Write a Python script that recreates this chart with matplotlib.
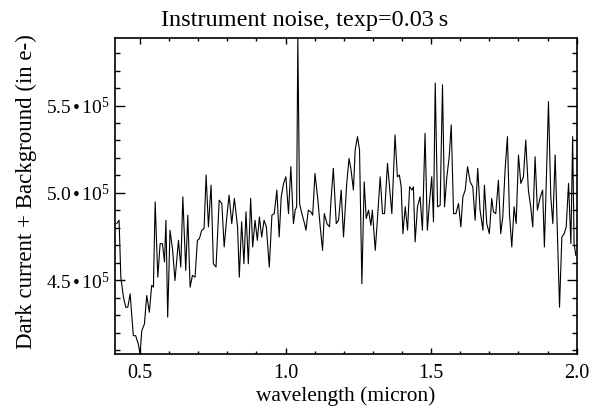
import matplotlib
matplotlib.use('Agg')
import matplotlib.pyplot as plt
import numpy as np
from matplotlib.ticker import MultipleLocator, FixedLocator, FuncFormatter

# wavelength (micron) and dark current + background (units of 1e5 e-)
wavelength = [0.420, 0.428, 0.434, 0.443, 0.451, 0.458, 0.466, 0.477, 0.485, 0.494,
              0.500, 0.506, 0.515, 0.523, 0.532, 0.540, 0.546, 0.552, 0.561, 0.569,
              0.577, 0.584, 0.589, 0.595, 0.603, 0.612, 0.620, 0.632, 0.640, 0.647,
              0.657, 0.664, 0.672, 0.680, 0.689, 0.697, 0.704, 0.712, 0.720, 0.727,
              0.735, 0.744, 0.752, 0.761, 0.772, 0.781, 0.789, 0.798, 0.806, 0.815,
              0.824, 0.835, 0.841, 0.849, 0.857, 0.864, 0.872, 0.880, 0.887, 0.895,
              0.903, 0.910, 0.918, 0.926, 0.934, 0.944, 0.953, 0.961, 0.970, 0.978,
              0.985, 0.993, 1.001, 1.010, 1.018, 1.027, 1.033, 1.038, 1.042, 1.048,
              1.056, 1.065, 1.070, 1.078, 1.087, 1.093, 1.101, 1.111, 1.119, 1.127,
              1.133, 1.142, 1.151, 1.156, 1.164, 1.174, 1.182, 1.191, 1.199, 1.210,
              1.218, 1.225, 1.233, 1.239, 1.247, 1.254, 1.262, 1.270, 1.277, 1.285,
              1.293, 1.298, 1.308, 1.316, 1.325, 1.333, 1.340, 1.350, 1.357, 1.365,
              1.376, 1.384, 1.391, 1.397, 1.403, 1.411, 1.419, 1.426, 1.434, 1.439,
              1.445, 1.453, 1.462, 1.470, 1.479, 1.487, 1.494, 1.502, 1.508, 1.514,
              1.522, 1.531, 1.539, 1.546, 1.554, 1.562, 1.569, 1.577, 1.585, 1.594,
              1.602, 1.609, 1.617, 1.625, 1.634, 1.643, 1.651, 1.660, 1.668, 1.678,
              1.683, 1.691, 1.700, 1.708, 1.714, 1.722, 1.731, 1.739, 1.746, 1.754,
              1.762, 1.769, 1.777, 1.785, 1.792, 1.800, 1.808, 1.817, 1.825, 1.834,
              1.842, 1.849, 1.857, 1.865, 1.875, 1.883, 1.889, 1.897, 1.903, 1.911,
              1.918, 1.926, 1.934, 1.941, 1.949, 1.957, 1.964, 1.972, 1.980, 1.986,
              1.991, 1.997]
noise = [4.824, 4.843, 4.517, 4.403, 4.345, 4.345, 4.422, 4.182, 4.182, 4.134,
         4.077, 4.211, 4.249, 4.412, 4.316, 4.470, 4.460, 4.948, 4.517, 4.709,
         4.709, 4.604, 4.843, 4.288, 4.786, 4.671, 4.498, 4.728, 4.575, 4.977,
         4.556, 4.872, 4.460, 4.527, 4.517, 4.728, 4.738, 4.786, 4.795, 5.102,
         4.805, 5.044, 4.594, 4.575, 4.958, 4.939, 4.690, 4.862, 4.987, 4.824,
         4.968, 4.805, 4.517, 4.834, 4.594, 4.891, 4.594, 4.968, 4.690, 4.843,
         4.728, 4.862, 4.747, 4.843, 4.805, 4.575, 4.872, 4.881, 5.016, 4.747,
         4.977, 5.054, 5.092, 4.881, 5.150, 4.824, 4.901, 4.920, 5.887, 4.939,
         4.881, 4.824, 4.786, 4.901, 4.891, 4.872, 5.111, 4.958, 4.805, 4.671,
         4.881, 4.824, 4.805, 4.958, 5.140, 4.824, 4.843, 5.016, 4.747, 5.054,
         5.197, 5.130, 5.016, 5.245, 5.322, 5.245, 4.479, 5.063, 4.853, 4.901,
         4.814, 4.901, 4.671, 4.862, 5.092, 4.881, 4.881, 5.169, 5.035, 4.881,
         5.332, 5.092, 5.102, 5.035, 4.766, 4.920, 4.786, 5.035, 5.016, 5.035,
         4.719, 4.920, 4.977, 4.786, 5.341, 4.786, 4.939, 5.092, 4.834, 5.629,
         4.920, 4.929, 5.619, 4.920, 5.092, 5.207, 5.389, 4.881, 4.881, 4.939,
         4.805, 4.977, 5.016, 5.150, 5.063, 5.035, 4.843, 5.140, 4.901, 4.786,
         5.044, 4.824, 4.766, 4.968, 4.891, 4.881, 5.073, 4.766, 4.862, 5.130,
         5.322, 4.881, 4.690, 4.920, 4.824, 5.217, 5.054, 5.092, 5.303, 5.016,
         4.920, 4.805, 5.207, 4.901, 4.977, 5.016, 4.690, 5.150, 5.523, 4.977,
         4.824, 5.217, 4.747, 4.345, 4.747, 4.766, 4.805, 5.054, 4.709, 5.322,
         4.709, 4.642]

x_major = [0.5, 1.0, 1.5, 2.0]
y_major = [4.5e5, 5.0e5, 5.5e5]

plt.rcParams['font.family'] = ['Liberation Serif', 'DejaVu Serif']
plt.rcParams['mathtext.fontset'] = 'custom'
plt.rcParams['mathtext.rm'] = 'Liberation Serif'
plt.rcParams['mathtext.it'] = 'Liberation Serif:italic'


# IDL style labels, e.g. 5.5 • 10^5
def sci_label(val, pos):
    return '{:.1f}'.format(val / 1e5) + r'$\,$' + '\u2022' + r'$\,$10$^{5}$'


fig = plt.figure(figsize=(6.03, 4.15), dpi=100)
ax = fig.add_axes([115 / 603, 1 - 354 / 415, (576.7 - 115) / 603, (354 - 38) / 415])

y = np.array(noise) * 1e5
ax.plot(wavelength, y, color='black', lw=0.8)

ax.set_xlim(0.414, 2.0)
ax.set_ylim(y.min(), y.max())

ax.xaxis.set_major_locator(FixedLocator(x_major))
ax.xaxis.set_minor_locator(MultipleLocator(0.1))
ax.yaxis.set_major_locator(FixedLocator(y_major))
ax.yaxis.set_minor_locator(MultipleLocator(0.1e5))
ax.yaxis.set_major_formatter(FuncFormatter(sci_label))
ax.xaxis.set_major_formatter(FuncFormatter(lambda v, p: '{:.1f}'.format(v)))

ax.tick_params(which='both', direction='in', top=True, right=True, width=1.0,
               labelsize=14.5, colors='black')
ax.tick_params(axis='x', which='major', length=4.5, pad=7)
ax.tick_params(axis='x', which='minor', length=2.3)
ax.tick_params(axis='y', which='major', length=7, pad=3.5, labelsize=14)
ax.tick_params(axis='y', which='minor', length=3.5)
for s in ax.spines.values():
    s.set_linewidth(1.2)

# title is centred on the whole figure, not on the axes
fig.text(0.505, 1 - 26 / 415, 'Instrument noise, texp=0.03\u2009s', fontsize=17.5,
         ha='center', va='baseline')
ax.set_xlabel('wavelength (micron)', fontsize=15.4, labelpad=2.5)
ax.set_ylabel('Dark current + Background (in e-)', fontsize=16.5)
ax.yaxis.set_label_coords(-0.168, 0.515)

fig.savefig('out.png', dpi=100)
